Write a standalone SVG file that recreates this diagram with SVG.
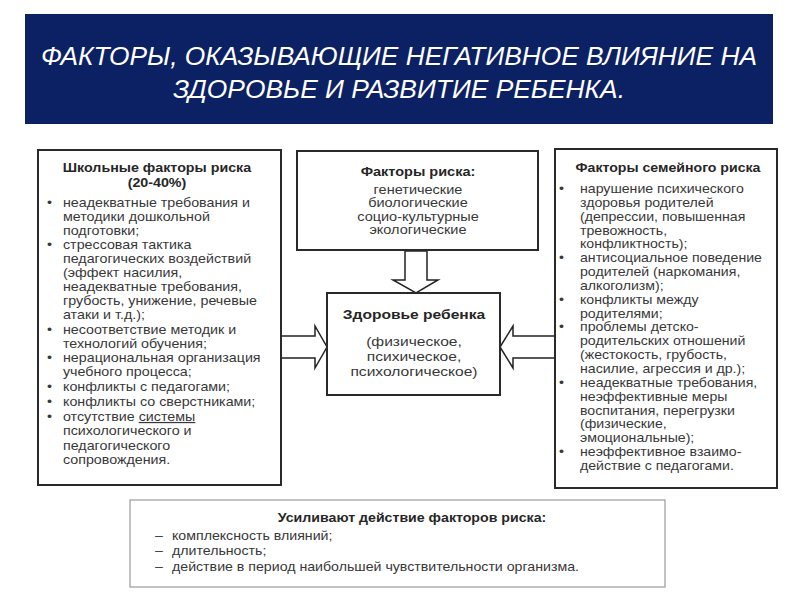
<svg xmlns="http://www.w3.org/2000/svg" width="800" height="600" viewBox="0 0 800 600">
<style>
.box{fill:#fff;stroke:#2a2a2a;stroke-width:2}
.bbox{fill:#fff;stroke:#9a9a9a;stroke-width:1.2}
.arrow{fill:#fff;stroke:#222;stroke-width:1.5;stroke-linejoin:miter}
text{font-family:"Liberation Sans",Arial,sans-serif;font-size:12.4px;fill:#383838}
.h{font-weight:bold;fill:#262626}
.c{text-anchor:middle}
.m{font-size:13.2px}
.b{font-size:13.5px}
.title{font-style:italic;fill:#fff;font-size:26px;text-anchor:middle}
</style>
<rect width="800" height="600" fill="#fff"/>
<g id="header">
<rect x="25" y="14" width="748" height="110" fill="#0c2163"/>
<text class="title" x="399" y="65" textLength="716" lengthAdjust="spacingAndGlyphs">ФАКТОРЫ, ОКАЗЫВАЮЩИЕ НЕГАТИВНОЕ ВЛИЯНИЕ НА</text>
<text class="title" x="399" y="98" textLength="452" lengthAdjust="spacingAndGlyphs">ЗДОРОВЬЕ И РАЗВИТИЕ РЕБЕНКА.</text>
</g>
<g id="connectors">
<polygon class="arrow" points="405,251 427,251 427,280 438,280 416,293 393,280 405,280"/>
<polygon class="arrow" points="281,336 315,336 315,326 327,347 315,368 315,358 281,358"/>
<polygon class="arrow" points="555,336 513,336 513,326 500,347 513,368 513,358 555,358"/>
</g>
<g id="school">
<rect class="box" x="38" y="150" width="243" height="335"/>
<g transform="translate(63,0) scale(1.15,1) translate(-63,0)">
<text class="h c" x="144.7" y="172">Школьные факторы риска</text>
<text class="h c" x="144.7" y="187">(20-40%)</text>
<text x="49" y="207">•</text><text x="63" y="207">неадекватные требования и</text>
<text x="63" y="221">методики дошкольной</text>
<text x="63" y="235">подготовки;</text>
<text x="49" y="249">•</text><text x="63" y="249">стрессовая тактика</text>
<text x="63" y="263">педагогических воздействий</text>
<text x="63" y="277">(эффект насилия,</text>
<text x="63" y="291">неадекватные требования,</text>
<text x="63" y="305">грубость, унижение, речевые</text>
<text x="63" y="319">атаки и т.д.);</text>
<text x="49" y="334">•</text><text x="63" y="334">несоответствие методик и</text>
<text x="63" y="348">технологий обучения;</text>
<text x="49" y="362">•</text><text x="63" y="362">нерациональная организация</text>
<text x="63" y="376">учебного процесса;</text>
<text x="49" y="391">•</text><text x="63" y="391">конфликты с педагогами;</text>
<text x="49" y="406">•</text><text x="63" y="406">конфликты со сверстниками;</text>
<text x="49" y="421">•</text><text x="63" y="421">отсутствие <tspan text-decoration="underline">системы</tspan></text>
<text x="63" y="435">психологического и</text>
<text x="63" y="450">педагогического</text>
<text x="63" y="464">сопровождения.</text>
</g>
</g>
<g id="risk">
<rect class="box" x="297" y="151" width="241" height="99"/>
<g transform="translate(418,0) scale(1.17,1) translate(-418,0)">
<text class="h c" x="418" y="176">Факторы риска:</text>
<text class="c" x="418" y="194">генетические</text>
<text class="c" x="418" y="207">биологические</text>
<text class="c" x="418" y="221">социо-культурные</text>
<text class="c" x="418" y="234">экологические</text>
</g>
</g>
<g id="health">
<rect class="box" x="327" y="293" width="173" height="102"/>
<g transform="translate(414,0) scale(1.18,1) translate(-414,0)">
<text class="h c m" x="414" y="319">Здоровье ребенка</text>
<text class="c m" x="414" y="346">(физическое,</text>
<text class="c m" x="414" y="361">психическое,</text>
<text class="c m" x="414" y="376">психологическое)</text>
</g>
</g>
<g id="family">
<rect class="box" x="555" y="149" width="222" height="339"/>
<g transform="translate(580,0) scale(1.14,1) translate(-580,0)">
<text class="h c" x="657.2" y="172">Факторы семейного риска</text>
<text x="561.6" y="193">•</text><text x="580" y="193">нарушение психического</text>
<text x="580" y="206.9">здоровья родителей</text>
<text x="580" y="220.7">(депрессии, повышенная</text>
<text x="580" y="234.6">тревожность,</text>
<text x="580" y="248.4">конфликтность);</text>
<text x="561.6" y="262.3">•</text><text x="580" y="262.3">антисоциальное поведение</text>
<text x="580" y="276.1">родителей (наркомания,</text>
<text x="580" y="290">алкоголизм);</text>
<text x="561.6" y="303.8">•</text><text x="580" y="303.8">конфликты между</text>
<text x="580" y="317.7">родителями;</text>
<text x="561.6" y="331.5">•</text><text x="580" y="331.5">проблемы детско-</text>
<text x="580" y="345.4">родительских отношений</text>
<text x="580" y="359.2">(жестокость, грубость,</text>
<text x="580" y="373.1">насилие, агрессия  и др.);</text>
<text x="561.6" y="386.9">•</text><text x="580" y="386.9">неадекватные требования,</text>
<text x="580" y="400.8">неэффективные меры</text>
<text x="580" y="414.6">воспитания, перегрузки</text>
<text x="580" y="428.5">(физические,</text>
<text x="580" y="442.3">эмоциональные);</text>
<text x="561.6" y="456.2">•</text><text x="580" y="456.2">неэффективное взаимо-</text>
<text x="580" y="470">действие с педагогами.</text>
</g>
</g>
<g id="amplifiers">
<rect class="bbox" x="130" y="500" width="535" height="87"/>
<g transform="translate(172,0) scale(1.05,1) translate(-172,0)">
<text class="h c b" x="400.6" y="522">Усиливают действие факторов риска:</text>
<text class="b" x="155.8" y="540">–</text><text class="b" x="172" y="540">комплексность влияний;</text>
<text class="b" x="155.8" y="555.5">–</text><text class="b" x="172" y="555.5">длительность;</text>
<text class="b" x="155.8" y="571">–</text><text class="b" x="172" y="571">действие в период наибольшей чувствительности организма.</text>
</g>
</g>
</svg>
